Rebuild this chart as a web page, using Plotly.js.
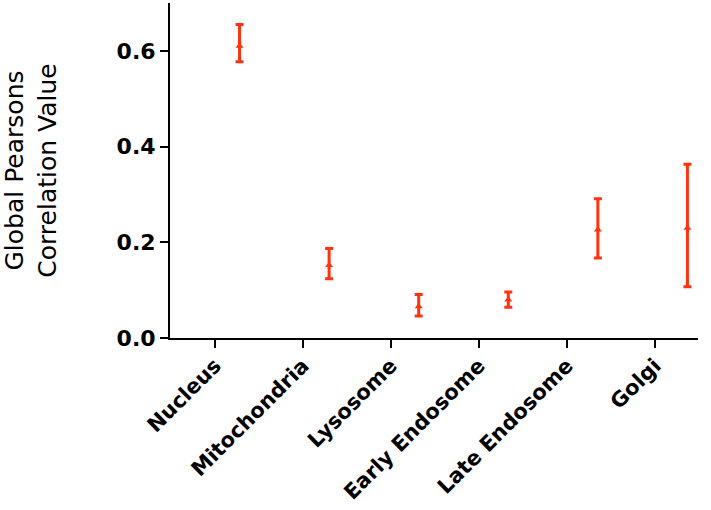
<!DOCTYPE html>
<html>
<head>
<meta charset="utf-8">
<script src="https://cdn.plot.ly/plotly-3.0.1.min.js"></script>
<style>body{margin:0;background:#fff}</style>
</head>
<body>
<div id="graphArea" style="width:711px;height:510px"></div>
<script>
// organelles, mean correlation and the ends of each error bar
var organelles = ["Nucleus", "Mitochondria", "Lysosome", "Early Endosome", "Late Endosome", "Golgi"];
var meanValue = [0.610, 0.152, 0.066, 0.080, 0.226, 0.230];
var upperEnd = [0.655, 0.187, 0.091, 0.096, 0.291, 0.363];
var lowerEnd = [0.577, 0.124, 0.046, 0.064, 0.167, 0.107];
var yTicks = [0, 0.2, 0.4, 0.6];

var tickPos = organelles.map((o, i) => i);
// points sit a bit right of their tick, like the original
var pointPos = organelles.map((o, i) => i * 1.018 + 0.28);

var red = "#ff3312";
var font = "DejaVu Sans, Arial, sans-serif";

var trace = {
    x: pointPos,
    y: meanValue,
    mode: "markers",
    type: "scatter",
    marker: {symbol: "triangle-up", size: 7, color: red},
    error_y: {
        type: "data",
        symmetric: false,
        array: upperEnd.map((u, i) => u - meanValue[i]),
        arrayminus: meanValue.map((m, i) => m - lowerEnd[i]),
        color: red,
        thickness: 3,
        width: 4
    },
    hoverinfo: "y"
};

var layout = {
    width: 711,
    height: 510,
    margin: {l: 170, r: 13, t: 3, b: 172},
    showlegend: false,
    plot_bgcolor: "#fff",
    paper_bgcolor: "#fff",
    font: {family: font, color: "#000"},
    xaxis: {
        range: [-0.51, 5.49],
        tickvals: tickPos,
        ticktext: organelles,
        tickangle: -45,
        showgrid: false,
        zeroline: false,
        showline: true,
        linecolor: "#000",
        linewidth: 2,
        ticks: "outside",
        ticklen: 8,
        tickwidth: 2,
        tickcolor: "#000",
        ticklabelstandoff: -3,
        tickfont: {size: 21, family: font, weight: "bold"}
    },
    yaxis: {
        range: [0, 0.7],
        tickvals: yTicks,
        ticktext: yTicks.map(v => v.toFixed(1)),
        showgrid: false,
        zeroline: false,
        showline: true,
        linecolor: "#000",
        linewidth: 2,
        ticks: "outside",
        ticklen: 8,
        tickwidth: 2,
        tickcolor: "#000",
        tickfont: {size: 22, family: font, weight: "bold"},
        title: {
            text: "Global Pearsons<br>Correlation Value",
            font: {size: 25, family: font},
            standoff: 55
        }
    }
};

Plotly.newPlot("graphArea", [trace], layout, {displayModeBar: false});
</script>
</body>
</html>
